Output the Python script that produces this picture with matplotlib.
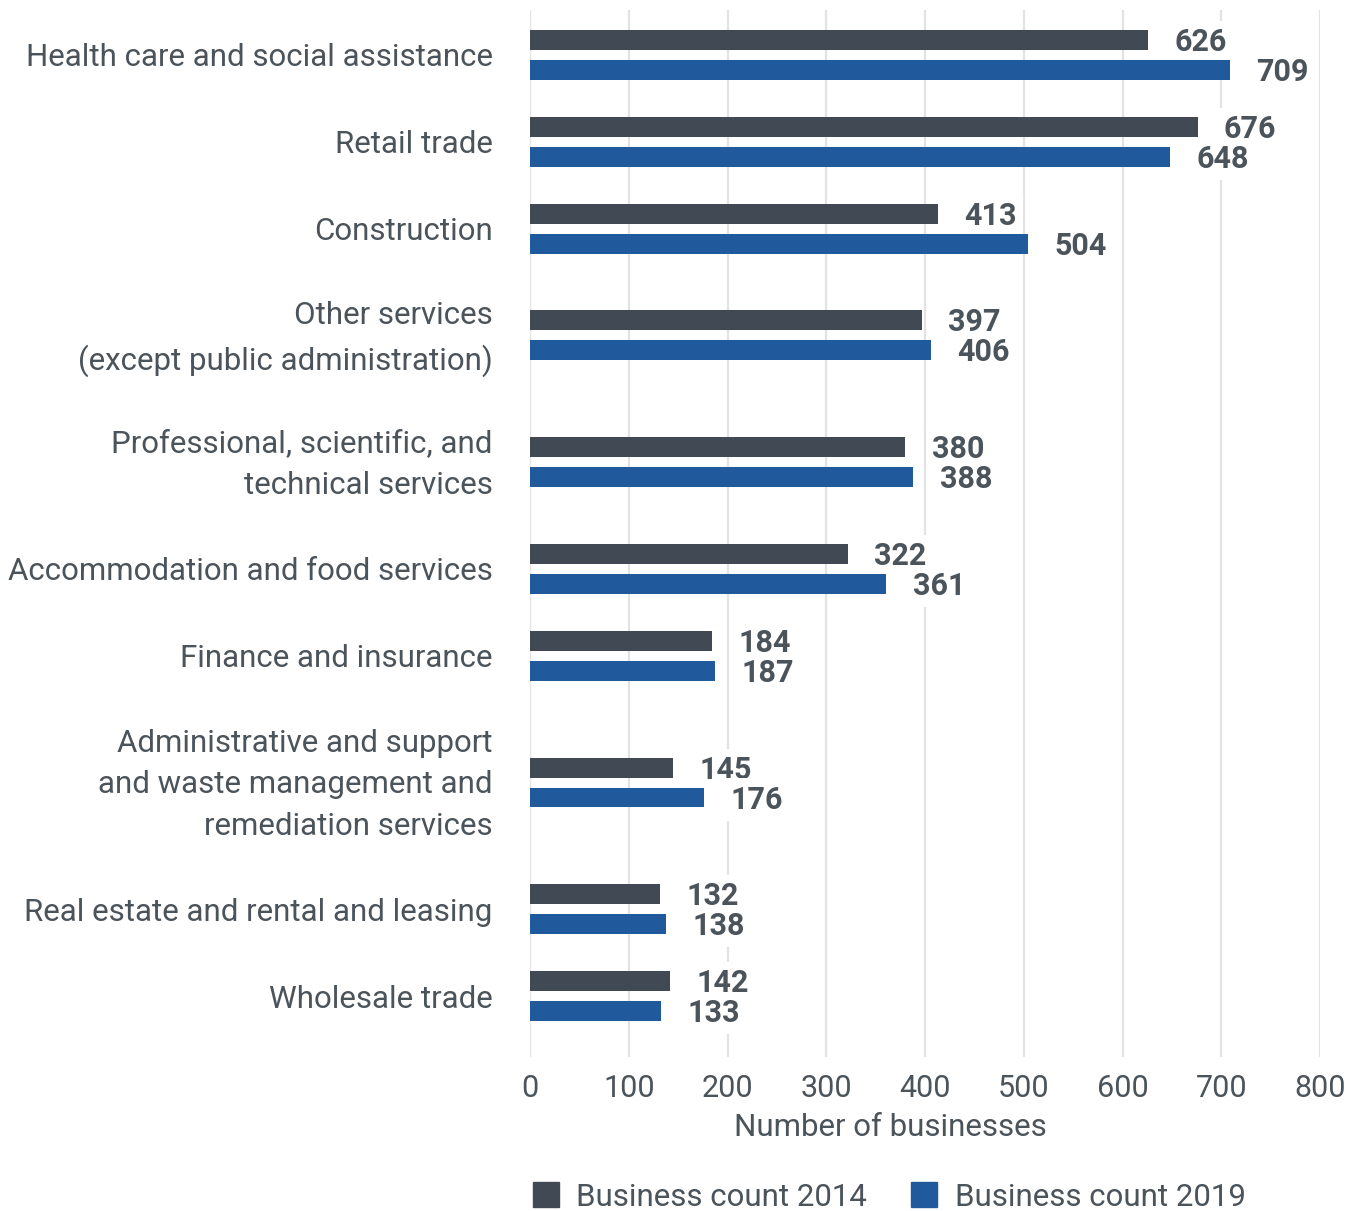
import numpy as np
import matplotlib.pyplot as plt
import matplotlib.transforms as mtransforms
from matplotlib.patches import Patch

industries = [
    "Health care and social assistance",
    "Retail trade",
    "Construction",
    "Other services\n(except public administration)",
    "Professional, scientific, and\ntechnical services",
    "Accommodation and food services",
    "Finance and insurance",
    "Administrative and support\nand waste management and\nremediation services",
    "Real estate and rental and leasing",
    "Wholesale trade",
]
count_2014 = [626, 676, 413, 397, 380, 322, 184, 145, 132, 142]
count_2019 = [709, 648, 504, 406, 388, 361, 187, 176, 138, 133]
series_names = ["Business count 2014", "Business count 2019"]

COLOR_2014 = "#414a54"
COLOR_2019 = "#215a9c"
TEXT = "#4b535b"
GRID = "#e3e3e3"

plt.rcParams["font.family"] = ["Roboto", "DejaVu Sans"]


def band_centers(labels):
    # taller rows for labels that wrap onto several lines
    heights = np.array([47 + 40 * (lab.count("\n") + 1) for lab in labels], dtype=float)
    edges = np.concatenate([[0], np.cumsum(heights)])
    return (edges[:-1] + edges[1:]) / 2


def label_bars(ax, ys, values):
    # white box hides the gridlines behind the number, bars stay on top
    for yy, v in zip(ys, values):
        ax.annotate(str(v), (v, yy), xytext=(19, -1.5), textcoords="offset points",
                    ha="left", va="center", fontsize=22, fontweight="bold", color=TEXT,
                    bbox=dict(boxstyle="square,pad=0.2", fc="white", ec="none"), zorder=2.5)


def main():
    fig = plt.figure(figsize=(13.59, 12.11), dpi=100)
    ax = fig.add_axes([530 / 1359, 1 - 1057 / 1211, 790 / 1359, 1047 / 1211])

    y = band_centers(industries)
    bar_h = 20
    off = 15

    ax.barh(y - off, count_2014, height=bar_h, color=COLOR_2014, zorder=3)
    ax.barh(y + off, count_2019, height=bar_h, color=COLOR_2019, zorder=3)
    label_bars(ax, y - off, count_2014)
    label_bars(ax, y + off, count_2019)

    ax.set_xlim(0, 800)
    ax.set_ylim(y[-1] + 61, y[0] - 45)
    ax.set_xticks(np.arange(0, 801, 100))
    ax.set_yticks(y)
    ax.set_yticklabels(industries, fontsize=22.5, color=TEXT, linespacing=1.55)
    ax.tick_params(axis="y", length=0, pad=27)
    ax.tick_params(axis="x", length=0, pad=12, labelsize=22, labelcolor=TEXT)
    ax.grid(axis="x", color=GRID, linewidth=1.6, zorder=0)
    for s in ax.spines.values():
        s.set_visible(False)

    # wrapped labels sit a little low, nudge them up
    for lab, txt in zip(ax.get_yticklabels(), industries):
        if "\n" in txt:
            lab.set_transform(lab.get_transform() +
                              mtransforms.ScaledTranslation(0, 7 / 100, fig.dpi_scale_trans))

    fig.text(890 / 1359, 1 - 1128 / 1211, "Number of businesses", ha="center", va="center",
             fontsize=22.5, color=TEXT)

    handles = [Patch(color=COLOR_2014), Patch(color=COLOR_2019)]
    fig.legend(handles, series_names, loc="center", bbox_to_anchor=(889 / 1359, 1 - 1197 / 1211),
               ncol=2, frameon=False, fontsize=22.5, labelcolor=TEXT, handlelength=0.85,
               handleheight=0.85, handletextpad=0.55, columnspacing=1.4)

    fig.savefig("out.png", dpi=100, facecolor="white")


if __name__ == "__main__":
    main()
